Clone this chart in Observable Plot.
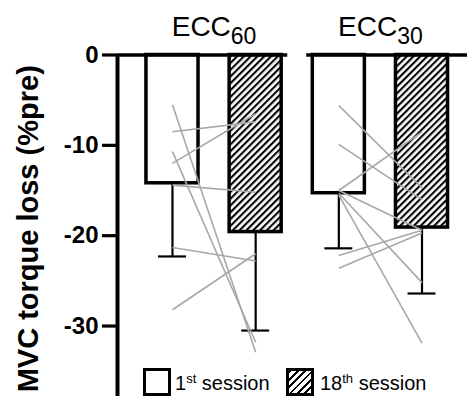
<!DOCTYPE html>
<html>
<head>
<meta charset="utf-8">
<script src="https://cdn.jsdelivr.net/npm/d3@7"></script>
<script src="https://cdn.jsdelivr.net/npm/@observablehq/plot@0.6"></script>
<style>
  body { margin: 0; background: white; font-family: "Liberation Sans", Arial, sans-serif; }
  #chart { position: relative; width: 467px; height: 402px; overflow: hidden; }
  #chart svg { position: absolute; left: 0; top: 0; }
  .leg-box { position: absolute; box-sizing: border-box; border: 3.5px solid black; background: white; }
  .leg-box.hatch { background: repeating-linear-gradient(135deg, black 0 2px, white 2px 5.2px); }
  .leg-text { position: absolute; font-size: 20px; color: black; white-space: nowrap; line-height: 1; }
  .leg-text sup { font-size: 13px; vertical-align: 7px; line-height: 0; }
</style>
</head>
<body>
<div id="chart"></div>
<script>
// ---- data ----
const groups = ["ECC60", "ECC30"];
const sessions = ["1st session", "18th session"];
const categories = ["ECC60 1st", "ECC60 18th", "ECC30 1st", "ECC30 18th"];
const means = [-14.2, -19.6, -15.3, -19.1];
const sds = [8.1, 10.9, 6.1, 7.3];
const ecc60First = [-5.5, -8.5, -10.7, -12.0, -14.4, -21.3, -28.2];
const ecc60Last  = [-32.9, -7.4, -31.8, -6.5, -15.2, -22.8, -22.0];
const ecc30First = [-5.6, -9.9, -15.0, -15.0, -15.3, -15.5, -22.2, -23.6];
const ecc30Last  = [-14.7, -16.0, -8.5, -19.4, -25.2, -31.9, -19.4, -19.7];
const yTicks = [0, -10, -20, -30];

// ---- derived tables ----
const bars = categories.map((c, i) => ({cat: c, pos: i + 1, mean: means[i], sd: sds[i], hatched: i % 2 === 1}));
const links = [];
[[ecc60First, ecc60Last], [ecc30First, ecc30Last]].forEach(([a, b], g) => {
  a.forEach((v, i) => links.push({x1: 2 * g + 1, y1: v, x2: 2 * g + 2, y2: b[i]}));
});

const xMin = 0.339, xMax = 4.547, halfBar = 0.313, halfCap = 0.168, gap = 0.114;

const plot = Plot.plot({
  width: 467,
  height: 402,
  marginLeft: 117,
  marginRight: 0,
  marginTop: 54.5,
  marginBottom: 6,
  style: {fontFamily: "'Liberation Sans', Arial, sans-serif", background: "white", color: "black"},
  x: {domain: [xMin, xMax], axis: null},
  y: {domain: [-37.8, 0]},
  marks: [
    Plot.ruleX(bars, {x: "pos", y1: "mean", y2: d => d.mean - d.sd, stroke: "black", strokeWidth: 2.2}),
    Plot.ruleY(bars, {y: d => d.mean - d.sd, x1: d => d.pos - halfCap, x2: d => d.pos + halfCap, stroke: "black", strokeWidth: 2.2}),
    Plot.rectY(bars.filter(d => !d.hatched), {x1: d => d.pos - halfBar, x2: d => d.pos + halfBar, y1: 0, y2: "mean", fill: "white", stroke: "black", strokeWidth: 3.5}),
    Plot.rectY(bars.filter(d => d.hatched), {x1: d => d.pos - halfBar, x2: d => d.pos + halfBar, y1: 0, y2: "mean", fill: "url(#hatch)", stroke: "black", strokeWidth: 3.5}),
    Plot.link(links, {x1: "x1", y1: "y1", x2: "x2", y2: "y2", stroke: "#a8a8a8", strokeWidth: 1.6}),
    Plot.ruleY([0], {x1: xMin, x2: 2.5 - gap, stroke: "black", strokeWidth: 3.5}),
    Plot.ruleY([0], {x1: 2.5 + gap, x2: xMax, stroke: "black", strokeWidth: 3.5}),
    Plot.ruleX([xMin], {stroke: "black", strokeWidth: 4}),
    Plot.axisY({ticks: yTicks, tickSize: 15, tickPadding: 4, strokeWidth: 3.2, fontSize: 24, fontWeight: "bold", label: null, tickFormat: d => String(d)}),
    Plot.text(["MVC torque loss (%pre)"], {frameAnchor: "left", textAnchor: "middle", rotate: -90, dx: -89, dy: 3, fontSize: 29, fontWeight: "bold", fill: "black"}),
    Plot.text(groups, {x: (d, i) => 2 * i + 1.5, y: 0, lineAnchor: "bottom", dy: -19.5, fontSize: 28, fill: "black", className: "grp-title"})
  ]
});

// hatch pattern
const svg = d3.select(plot);
const defs = svg.insert("defs", ":first-child");
defs.append("pattern")
  .attr("id", "hatch")
  .attr("patternUnits", "userSpaceOnUse")
  .attr("width", 4.8).attr("height", 4.8)
  .attr("patternTransform", "rotate(45)")
  .call(p => p.append("rect").attr("width", 4.8).attr("height", 4.8).attr("fill", "white"))
  .call(p => p.append("line").attr("x1", 1.1).attr("y1", 0).attr("x2", 1.1).attr("y2", 4.8).attr("stroke", "black").attr("stroke-width", 2.1));

// subscripts for group titles
svg.selectAll(".grp-title text").each(function () {
  const t = d3.select(this);
  const s = t.text();
  const m = s.match(/^([A-Za-z]+)(\d+)$/);
  if (m) {
    t.text(null);
    t.append("tspan").text(m[1]);
    t.append("tspan").attr("dy", 8).attr("font-size", 23).text(m[2]);
  }
});

const chart = document.getElementById("chart");
chart.appendChild(plot);

// legend (HTML overlay)
function legendItem(left, hatched, label, textLeft) {
  const box = document.createElement("div");
  box.className = "leg-box" + (hatched ? " hatch" : "");
  Object.assign(box.style, {left: left + "px", top: "368px", width: "28px", height: "28px"});
  chart.appendChild(box);
  const txt = document.createElement("div");
  txt.className = "leg-text";
  const m = label.match(/^(\d+)(st|nd|rd|th)(.*)$/);
  txt.innerHTML = m[1] + "<sup>" + m[2] + "</sup>" + m[3];
  Object.assign(txt.style, {left: textLeft + "px", top: "373px"});
  chart.appendChild(txt);
}
legendItem(143, false, sessions[0], 175);
legendItem(286, true, sessions[1], 320);
</script>
</body>
</html>
